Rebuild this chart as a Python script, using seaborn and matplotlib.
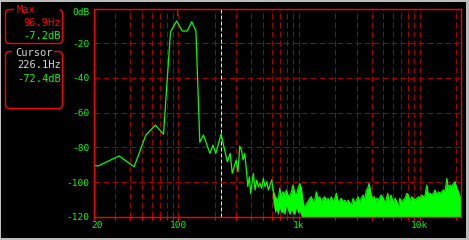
import matplotlib
matplotlib.use("Agg")
import matplotlib.pyplot as plt
import seaborn as sns
import pandas as pd
from matplotlib.patches import FancyBboxPatch, Rectangle
from matplotlib.transforms import ScaledTranslation
from matplotlib.ticker import LogLocator, NullFormatter

# ---------------- data ----------------
trace_hz = [10.77, 21.53, 32.30, 43.06, 53.83, 64.60, 75.36, 86.13, 96.90, 107.7, 118.4, 129.2, 140.0,
            150.7, 161.5, 183.0, 193.8, 204.6, 226.1, 236.9, 254.9, 269.2, 279.9, 301.5, 312.2,
            323.0, 333.7, 344.5, 355.3, 366.0, 376.8, 387.6, 398.3, 418.8, 432.5, 446.8, 460.7,
            476.0, 491.5, 506.8, 523.6, 540.8, 557.6, 576.0, 595.0]
trace_db = [-87.0, -90.8, -85.0, -91.2, -72.9, -67.2, -72.5, -13.4, -7.2, -13.0, -13.0, -7.6, -13.0,
            -77.1, -72.9, -83.5, -78.7, -83.5, -72.4, -78.7, -88.3, -83.5, -95.0, -87.3, -94.0,
            -79.3, -81.6, -87.3, -83.5, -92.1, -102.7, -97.0, -106.5, -95.0, -104.6, -98.9, -102.7,
            -100.8, -103.6, -97.9, -102.7, -99.8, -104.6, -101.7, -98.9]

# dense noise region: upper edge and lower edge of the drawn band
env_hz = [595, 610, 634, 650, 671, 693, 715, 738, 763, 786,
          812, 839, 865, 894, 923, 952, 983, 1016, 1047, 1082,
          1117, 1152, 1190, 1229, 1267, 1309, 1352, 1394, 1440, 1488,
          1534, 1584, 1636, 1687, 1743, 1800, 1857, 1918, 1981, 2042,
          2110, 2180, 2248, 2320, 2398, 2472, 2554, 2638, 2720, 2810,
          2902, 2992, 3090, 3192, 3292, 3400, 3512, 3622, 3720, 3814,
          3888, 3962, 4060, 4220, 4334, 4418, 4554, 4706, 4796, 5010,
          5176, 5450, 5586, 5804, 6066, 6266, 6472, 6674, 6854, 7118,
          7340, 7582, 7832, 8074, 8340, 8616, 8884, 9176, 9480, 9774,
          10098, 10430, 10754, 11108, 11474, 11832, 12222, 12626, 13016, 13446,
          13890, 14320, 14792, 15280, 15756, 16274, 16812, 17334, 17906, 18496,
          19068, 19698, 20348, 20980, 21668, 22050]
env_top_db = [-98.9, -104.6, -108.5, -109.4, -111.4, -103.6, -108.5, -105.6, -107.5, -104.6,
              -107.5, -108.5, -105.6, -101.7, -106.5, -107.5, -103.6, -100.8, -103.6, -111.4,
              -115.2, -112.3, -111.4, -109.4, -108.5, -111.4, -110.4, -105.6, -109.4, -108.5,
              -112.3, -109.4, -108.5, -110.4, -109.4, -111.4, -108.5, -111.4, -109.4, -106.5,
              -111.4, -110.4, -109.4, -111.4, -110.4, -112.3, -110.4, -112.3, -113.3, -109.4,
              -112.3, -110.4, -108.5, -111.4, -109.4, -107.5, -110.4, -104.6, -103.6, -100.8,
              -103.6, -107.5, -109.4, -108.5, -111.4, -109.4, -110.4, -108.5, -107.5, -109.4,
              -112.3, -106.5, -112.3, -107.5, -112.3, -109.4, -111.4, -115.2, -109.4, -111.4,
              -110.4, -109.4, -106.5, -107.5, -111.4, -108.5, -109.4, -110.4, -109.4, -108.5,
              -109.4, -107.5, -108.5, -107.5, -101.7, -107.5, -106.5, -107.5, -106.5, -104.6,
              -107.5, -105.6, -106.5, -105.6, -104.6, -105.6, -97.9, -103.6, -101.7, -102.7,
              -100.8, -99.8, -103.6, -105.6, -108.5, -109.4]
env_low_head_db = [-101, -112, -118, -116, -119, -115, -118, -117, -119, -114,
                   -117, -119, -116, -118, -119, -115, -118, -117, -120]
floor_db = -120
env_low_db = env_low_head_db + [floor_db] * (len(env_hz) - len(env_low_head_db))
assert len(env_hz) == len(env_top_db) == len(env_low_db)
assert len(trace_hz) == len(trace_db)

max_hz, max_db = 96.9, -7.2
cursor_hz, cursor_db = 226.1, -72.4

x_tick_hz = [20, 100, 1000, 10000]
x_tick_labels = ["20", "100", "1k", "10k"]
y_tick_db = [0, -20, -40, -60, -80, -100, -120]
y_tick_labels = ["0dB", "-20", "-40", "-60", "-80", "-100", "-120"]
x_range = (20, 22050)
y_range = (-120, 0)

# ---------------- style ----------------
RED = "#ff0000"
GREEN = "#00ff00"
GRID = "#a00000"
GRAYTXT = "#d4d4d4"
FRAME = "#bdbdbd"

sns.set_theme(style="dark")
plt.rcParams['font.family'] = ['DejaVu Sans Mono', 'DejaVu Sans']
plt.rcParams['lines.scale_dashes'] = True

W, H = 469, 240
fig = plt.figure(figsize=(W / 100, H / 100), dpi=100)
fig.patch.set_facecolor(FRAME)

# pixel-space overlay for the window background and the left read-out panel
bg = fig.add_axes([0, 0, 1, 1])
bg.set_xlim(0, W)
bg.set_ylim(H, 0)
bg.axis('off')
bg.add_patch(Rectangle((1, 2), 465, 235.5, facecolor='black', edgecolor='none'))

for (y0, y1, g0, g1) in [(9.5, 43.5, 14, 60), (51.5, 108.5, 12, 54)]:
    bg.add_patch(FancyBboxPatch((5.5, y0), 57, y1 - y0,
                                boxstyle='round,pad=0,rounding_size=4',
                                fc='none', ec=RED, lw=1.0, zorder=2))
    bg.add_patch(Rectangle((g0, y0 - 1.5), g1 - g0, 3, fc='black', ec='none', zorder=3))

fs_panel = 7.5
bg.text(16.5, 10, "Max", color=RED, fontsize=fs_panel, ha='left', va='center', zorder=4)
bg.text(60.5, 22.8, f"{max_hz:.1f}Hz", color=RED, fontsize=fs_panel, ha='right', va='center', zorder=4)
bg.text(60.5, 35.8, f"{max_db:.1f}dB", color=GREEN, fontsize=fs_panel, ha='right', va='center', zorder=4)
bg.text(15, 52.8, "Cursor", color=GRAYTXT, fontsize=fs_panel, ha='left', va='center', zorder=4)
bg.text(60.5, 65, f"{cursor_hz:.1f}Hz", color=GRAYTXT, fontsize=fs_panel, ha='right', va='center', zorder=4)
bg.text(60.5, 79, f"{cursor_db:.1f}dB", color=GREEN, fontsize=fs_panel, ha='right', va='center', zorder=4)

# ---------------- main spectrum axes ----------------
ax = fig.add_axes([94 / W, 1 - 216.7 / H, 367 / W, (216.7 - 8.5) / H])
ax.set_facecolor('black')
ax.set_xscale('log')

df = pd.DataFrame({"freq": trace_hz, "db": trace_db})
sns.lineplot(data=df, x="freq", y="db", ax=ax, color=GREEN, lw=0.9, estimator=None, zorder=3)
ax.fill_between(env_hz, env_low_db, env_top_db, color=GREEN, lw=0, zorder=3)
sns.lineplot(x=env_hz, y=env_top_db, ax=ax, color=GREEN, lw=0.8, estimator=None, zorder=3)

ax.axvline(cursor_hz, color='#e6e6e6', lw=0.72, ls=(0, (4, 2)), zorder=2)
ax.plot([max_hz, max_hz], [y_range[1], y_range[1] - 4], color=RED, lw=0.8, zorder=4)

ax.set_xlim(*x_range)
ax.set_ylim(*y_range)
ax.set_xticks(x_tick_hz, x_tick_labels)
ax.xaxis.set_minor_locator(LogLocator(base=10, subs=(2, 3, 4, 5, 6, 7, 8, 9)))
ax.xaxis.set_minor_formatter(NullFormatter())
ax.set_yticks(y_tick_db, y_tick_labels)
ax.set_xlabel("")
ax.set_ylabel("")

ax.grid(True, which='both', axis='x', color=GRID, lw=0.72, ls=(0, (6, 3)))
ax.grid(True, which='major', axis='y', color=GRID, lw=0.72, ls=(0, (6, 3)))
ax.set_axisbelow(True)
for s in ax.spines.values():
    s.set_visible(True)
    s.set_color(RED)
    s.set_linewidth(1.0)
    s.set_zorder(5)

ax.tick_params(axis='x', which='both', bottom=True, top=False, colors=RED, labelcolor=GREEN,
               length=2, width=0.72, direction='out', pad=1, labelsize=6.8)
ax.tick_params(axis='y', which='both', left=True, length=0, pad=3.4,
               labelcolor=GREEN, labelsize=6.8)

# small label nudges as in the reference
lab20 = ax.get_xticklabels()[0]
lab20.set_transform(lab20.get_transform() + ScaledTranslation(3.5 / 100, 0, fig.dpi_scale_trans))
lab0 = ax.get_yticklabels()[0]
lab0.set_transform(lab0.get_transform() + ScaledTranslation(0, -2.7 / 100, fig.dpi_scale_trans))

fig.savefig("out.png", dpi=100, facecolor=fig.get_facecolor())
